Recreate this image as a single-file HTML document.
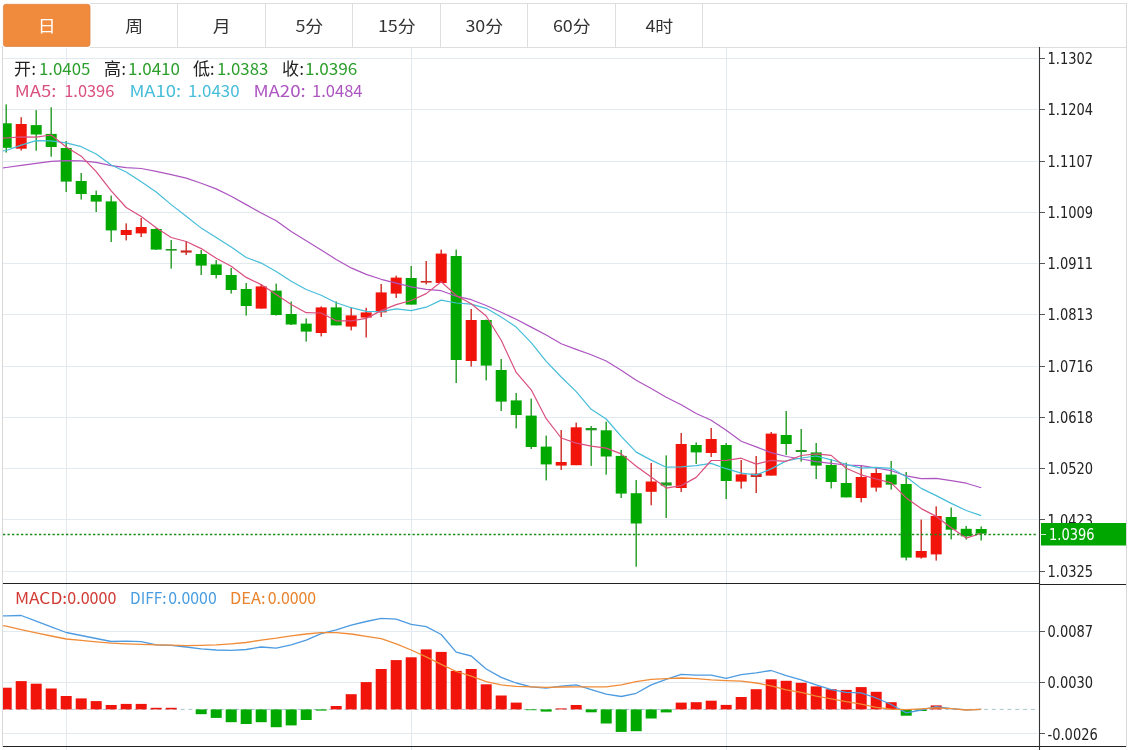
<!DOCTYPE html>
<html lang="zh-CN"><head><meta charset="utf-8"><title>K线图</title>
<style>
html,body{margin:0;padding:0;background:#fff;width:1134px;height:750px;overflow:hidden}
svg{display:block;will-change:transform}
.t{font-family:"Liberation Sans","Noto Sans CJK SC",sans-serif}
.tab{font-family:"Noto Sans CJK SC","Liberation Sans",sans-serif;font-size:16px;fill:#333}
.ax{font-family:"DejaVu Sans Condensed","DejaVu Sans",sans-serif;font-stretch:condensed;font-size:15px;fill:#222}
</style></head><body>
<svg width="1134" height="750" viewBox="0 0 1134 750">
<rect width="1134" height="750" fill="#fff"/>
<line x1="90" y1="3.5" x2="1127" y2="3.5" stroke="#dedede"/>
<line x1="90" y1="47.5" x2="1127" y2="47.5" stroke="#dedede"/>
<rect x="3.4" y="4.3" width="86.6" height="42.1" rx="2.5" fill="#f08a3c" stroke="#dc8748" stroke-width="0.8"/>
<text class="tab" x="0" y="32.2" text-anchor="middle" transform="translate(46.8,0) scale(1.12,1)" style="fill:#fff">日</text>
<text class="tab" x="0" y="32.2" text-anchor="middle" transform="translate(134.3,0) scale(1.12,1)" style="fill:#333">周</text>
<line x1="177.5" y1="4" x2="177.5" y2="47" stroke="#dedede"/>
<text class="tab" x="0" y="32.2" text-anchor="middle" transform="translate(221.8,0) scale(1.12,1)" style="fill:#333">月</text>
<line x1="265.5" y1="4" x2="265.5" y2="47" stroke="#dedede"/>
<text class="tab" x="0" y="32.2" text-anchor="middle" transform="translate(309.3,0) scale(1.12,1)" style="fill:#333">5分</text>
<line x1="352.5" y1="4" x2="352.5" y2="47" stroke="#dedede"/>
<text class="tab" x="0" y="32.2" text-anchor="middle" transform="translate(396.8,0) scale(1.12,1)" style="fill:#333">15分</text>
<line x1="440.5" y1="4" x2="440.5" y2="47" stroke="#dedede"/>
<text class="tab" x="0" y="32.2" text-anchor="middle" transform="translate(484.3,0) scale(1.12,1)" style="fill:#333">30分</text>
<line x1="527.5" y1="4" x2="527.5" y2="47" stroke="#dedede"/>
<text class="tab" x="0" y="32.2" text-anchor="middle" transform="translate(571.8,0) scale(1.12,1)" style="fill:#333">60分</text>
<line x1="615.5" y1="4" x2="615.5" y2="47" stroke="#dedede"/>
<text class="tab" x="0" y="32.2" text-anchor="middle" transform="translate(659.3,0) scale(1.12,1)" style="fill:#333">4时</text>
<line x1="702.5" y1="4" x2="702.5" y2="47" stroke="#dedede"/>
<line x1="2.5" y1="46" x2="2.5" y2="747" stroke="#d8d8d8"/>
<line x1="1126.5" y1="3" x2="1126.5" y2="747" stroke="#d8d8d8"/>
<g stroke="#e2e9ef" stroke-width="1">
<line x1="3" y1="58.5" x2="1038" y2="58.5"/>
<line x1="3" y1="109.5" x2="1038" y2="109.5"/>
<line x1="3" y1="161.5" x2="1038" y2="161.5"/>
<line x1="3" y1="212.5" x2="1038" y2="212.5"/>
<line x1="3" y1="263.5" x2="1038" y2="263.5"/>
<line x1="3" y1="314.5" x2="1038" y2="314.5"/>
<line x1="3" y1="366.5" x2="1038" y2="366.5"/>
<line x1="3" y1="417.5" x2="1038" y2="417.5"/>
<line x1="3" y1="468.5" x2="1038" y2="468.5"/>
<line x1="3" y1="519.5" x2="1038" y2="519.5"/>
<line x1="3" y1="571.5" x2="1038" y2="571.5"/>
<line x1="66.5" y1="48" x2="66.5" y2="750"/>
<line x1="411.5" y1="48" x2="411.5" y2="750"/>
<line x1="726.5" y1="48" x2="726.5" y2="750"/>
<line x1="3" y1="631.5" x2="1038" y2="631.5"/>
<line x1="3" y1="682.5" x2="1038" y2="682.5"/>
<line x1="3" y1="733.5" x2="1038" y2="733.5"/>
</g>
<defs><clipPath id="cm"><rect x="3" y="47" width="1036" height="536"/></clipPath><clipPath id="cd"><rect x="3" y="584" width="1036" height="162"/></clipPath></defs>
<g clip-path="url(#cm)">
<rect x="5.5" y="104.4" width="1.4" height="48.2" fill="#239a23"/>
<rect x="0.7" y="123.3" width="11" height="24.5" fill="#00a800"/>
<rect x="20.5" y="117.2" width="1.4" height="33.3" fill="#cc2a22"/>
<rect x="15.7" y="124" width="11" height="24.7" fill="#f0140a"/>
<rect x="35.5" y="110.1" width="1.4" height="40.6" fill="#239a23"/>
<rect x="30.7" y="125.1" width="11" height="9.4" fill="#00a800"/>
<rect x="50.5" y="107.3" width="1.4" height="49.4" fill="#239a23"/>
<rect x="45.7" y="133.9" width="11" height="13.1" fill="#00a800"/>
<rect x="65.5" y="141" width="1.4" height="51" fill="#239a23"/>
<rect x="60.7" y="148" width="11" height="33.6" fill="#00a800"/>
<rect x="80.5" y="173" width="1.4" height="26.6" fill="#239a23"/>
<rect x="75.7" y="181" width="11" height="13" fill="#00a800"/>
<rect x="95.5" y="190.6" width="1.4" height="21.4" fill="#239a23"/>
<rect x="90.7" y="195" width="11" height="6.6" fill="#00a800"/>
<rect x="110.5" y="195.6" width="1.4" height="46.4" fill="#239a23"/>
<rect x="105.7" y="201.4" width="11" height="29" fill="#00a800"/>
<rect x="125.5" y="223.4" width="1.4" height="17" fill="#cc2a22"/>
<rect x="120.7" y="230" width="11" height="5" fill="#f0140a"/>
<rect x="140.5" y="218" width="1.4" height="19" fill="#cc2a22"/>
<rect x="135.7" y="227" width="11" height="6.4" fill="#f0140a"/>
<rect x="155.5" y="228" width="1.4" height="22" fill="#239a23"/>
<rect x="150.7" y="229" width="11" height="20.6" fill="#00a800"/>
<rect x="170.5" y="240" width="1.4" height="28.6" fill="#239a23"/>
<rect x="165.7" y="249" width="11" height="1.6" fill="#239a23"/>
<rect x="185.5" y="241" width="1.4" height="14" fill="#cc2a22"/>
<rect x="180.7" y="250.4" width="11" height="2.2" fill="#cc2a22"/>
<rect x="200.5" y="250" width="1.4" height="25" fill="#239a23"/>
<rect x="195.7" y="254" width="11" height="11.6" fill="#00a800"/>
<rect x="215.5" y="260" width="1.4" height="18.4" fill="#239a23"/>
<rect x="210.7" y="264.4" width="11" height="10.6" fill="#00a800"/>
<rect x="230.5" y="268" width="1.4" height="25.6" fill="#239a23"/>
<rect x="225.7" y="275" width="11" height="15" fill="#00a800"/>
<rect x="245.5" y="283" width="1.4" height="32.6" fill="#239a23"/>
<rect x="240.7" y="289" width="11" height="17" fill="#00a800"/>
<rect x="260.5" y="284" width="1.4" height="24.6" fill="#cc2a22"/>
<rect x="255.7" y="286.4" width="11" height="22.2" fill="#f0140a"/>
<rect x="275.5" y="283.6" width="1.4" height="32" fill="#239a23"/>
<rect x="270.7" y="290.6" width="11" height="24.4" fill="#00a800"/>
<rect x="290.5" y="301.5" width="1.4" height="23.5" fill="#239a23"/>
<rect x="285.7" y="314" width="11" height="10.5" fill="#00a800"/>
<rect x="305.5" y="318.4" width="1.4" height="23.2" fill="#239a23"/>
<rect x="300.7" y="323.6" width="11" height="8" fill="#00a800"/>
<rect x="320.5" y="306.4" width="1.4" height="30" fill="#cc2a22"/>
<rect x="315.7" y="307.4" width="11" height="25.6" fill="#f0140a"/>
<rect x="335.5" y="301.4" width="1.4" height="24" fill="#239a23"/>
<rect x="330.7" y="307.4" width="11" height="18" fill="#00a800"/>
<rect x="350.5" y="307.6" width="1.4" height="22.8" fill="#cc2a22"/>
<rect x="345.7" y="315.4" width="11" height="11.2" fill="#f0140a"/>
<rect x="365.5" y="307.8" width="1.4" height="29.7" fill="#cc2a22"/>
<rect x="360.7" y="312.4" width="11" height="5.2" fill="#f0140a"/>
<rect x="380.5" y="284" width="1.4" height="33" fill="#cc2a22"/>
<rect x="375.7" y="292.4" width="11" height="20" fill="#f0140a"/>
<rect x="395.5" y="275.6" width="1.4" height="22.4" fill="#cc2a22"/>
<rect x="390.7" y="277.6" width="11" height="16" fill="#f0140a"/>
<rect x="410.5" y="266" width="1.4" height="38.6" fill="#239a23"/>
<rect x="405.7" y="278" width="11" height="26.6" fill="#00a800"/>
<rect x="425.5" y="261" width="1.4" height="23.4" fill="#cc2a22"/>
<rect x="420.7" y="281" width="11" height="1.6" fill="#cc2a22"/>
<rect x="440.5" y="249.6" width="1.4" height="33.4" fill="#cc2a22"/>
<rect x="435.7" y="253.6" width="11" height="29.4" fill="#f0140a"/>
<rect x="455.5" y="249.6" width="1.4" height="133.4" fill="#239a23"/>
<rect x="450.7" y="256" width="11" height="104" fill="#00a800"/>
<rect x="470.5" y="309" width="1.4" height="57.6" fill="#cc2a22"/>
<rect x="465.7" y="320" width="11" height="41" fill="#f0140a"/>
<rect x="485.5" y="319.6" width="1.4" height="60.8" fill="#239a23"/>
<rect x="480.7" y="320" width="11" height="45.6" fill="#00a800"/>
<rect x="500.5" y="359" width="1.4" height="52" fill="#239a23"/>
<rect x="495.7" y="370" width="11" height="31.6" fill="#00a800"/>
<rect x="515.5" y="393" width="1.4" height="35.4" fill="#239a23"/>
<rect x="510.7" y="400.4" width="11" height="14.6" fill="#00a800"/>
<rect x="530.5" y="398.6" width="1.4" height="50.4" fill="#239a23"/>
<rect x="525.7" y="415.6" width="11" height="31.4" fill="#00a800"/>
<rect x="545.5" y="435.6" width="1.4" height="44.8" fill="#239a23"/>
<rect x="540.7" y="446.6" width="11" height="17.8" fill="#00a800"/>
<rect x="560.5" y="430" width="1.4" height="40" fill="#cc2a22"/>
<rect x="555.7" y="462" width="11" height="3.6" fill="#f0140a"/>
<rect x="575.5" y="422.6" width="1.4" height="42.6" fill="#cc2a22"/>
<rect x="570.7" y="427.3" width="11" height="37.9" fill="#f0140a"/>
<rect x="590.5" y="426" width="1.4" height="39.9" fill="#239a23"/>
<rect x="585.7" y="428" width="11" height="2.3" fill="#239a23"/>
<rect x="605.5" y="421.7" width="1.4" height="52.9" fill="#239a23"/>
<rect x="600.7" y="430.3" width="11" height="26.2" fill="#00a800"/>
<rect x="620.5" y="450" width="1.4" height="48" fill="#239a23"/>
<rect x="615.7" y="455.9" width="11" height="37.7" fill="#00a800"/>
<rect x="635.5" y="480" width="1.4" height="86.7" fill="#239a23"/>
<rect x="630.7" y="493.2" width="11" height="30.3" fill="#00a800"/>
<rect x="650.5" y="463" width="1.4" height="42.3" fill="#cc2a22"/>
<rect x="645.7" y="481.5" width="11" height="10.3" fill="#f0140a"/>
<rect x="665.5" y="455.4" width="1.4" height="62.6" fill="#239a23"/>
<rect x="660.7" y="482.4" width="11" height="3.2" fill="#239a23"/>
<rect x="680.5" y="433" width="1.4" height="59" fill="#cc2a22"/>
<rect x="675.7" y="444" width="11" height="44" fill="#f0140a"/>
<rect x="695.5" y="442.4" width="1.4" height="21.6" fill="#239a23"/>
<rect x="690.7" y="445" width="11" height="7.4" fill="#00a800"/>
<rect x="710.5" y="428" width="1.4" height="29" fill="#cc2a22"/>
<rect x="705.7" y="439" width="11" height="14" fill="#f0140a"/>
<rect x="725.5" y="443" width="1.4" height="56" fill="#239a23"/>
<rect x="720.7" y="445" width="11" height="36" fill="#00a800"/>
<rect x="740.5" y="460" width="1.4" height="28.6" fill="#cc2a22"/>
<rect x="735.7" y="474.4" width="11" height="7.2" fill="#f0140a"/>
<rect x="755.5" y="456" width="1.4" height="37" fill="#cc2a22"/>
<rect x="750.7" y="473.6" width="11" height="3.4" fill="#cc2a22"/>
<rect x="770.5" y="432" width="1.4" height="43.6" fill="#cc2a22"/>
<rect x="765.7" y="433.6" width="11" height="42" fill="#f0140a"/>
<rect x="785.5" y="411" width="1.4" height="44" fill="#239a23"/>
<rect x="780.7" y="435" width="11" height="9" fill="#00a800"/>
<rect x="800.5" y="429" width="1.4" height="32.6" fill="#239a23"/>
<rect x="795.7" y="450" width="11" height="2" fill="#239a23"/>
<rect x="815.5" y="443" width="1.4" height="36" fill="#239a23"/>
<rect x="810.7" y="452.4" width="11" height="13.2" fill="#00a800"/>
<rect x="830.5" y="459" width="1.4" height="29.4" fill="#239a23"/>
<rect x="825.7" y="465" width="11" height="17" fill="#00a800"/>
<rect x="845.5" y="462.6" width="1.4" height="34.8" fill="#239a23"/>
<rect x="840.7" y="483" width="11" height="14.4" fill="#00a800"/>
<rect x="860.5" y="466" width="1.4" height="36.4" fill="#cc2a22"/>
<rect x="855.7" y="477" width="11" height="21" fill="#f0140a"/>
<rect x="875.5" y="468" width="1.4" height="23.6" fill="#cc2a22"/>
<rect x="870.7" y="473" width="11" height="14.6" fill="#f0140a"/>
<rect x="890.5" y="461" width="1.4" height="28.6" fill="#239a23"/>
<rect x="885.7" y="474.6" width="11" height="10" fill="#00a800"/>
<rect x="905.5" y="472" width="1.4" height="88.4" fill="#239a23"/>
<rect x="900.7" y="484" width="11" height="73.6" fill="#00a800"/>
<rect x="920.5" y="519.6" width="1.4" height="39" fill="#cc2a22"/>
<rect x="915.7" y="551" width="11" height="6.6" fill="#f0140a"/>
<rect x="935.5" y="506.4" width="1.4" height="54.2" fill="#cc2a22"/>
<rect x="930.7" y="516" width="11" height="38.4" fill="#f0140a"/>
<rect x="950.5" y="507.5" width="1.4" height="31.9" fill="#239a23"/>
<rect x="945.7" y="517" width="11" height="12.7" fill="#00a800"/>
<rect x="965.5" y="526" width="1.4" height="13.6" fill="#239a23"/>
<rect x="960.7" y="528.8" width="11" height="7.5" fill="#00a800"/>
<rect x="980.5" y="526.4" width="1.4" height="14.1" fill="#239a23"/>
<rect x="975.7" y="529" width="11" height="4.7" fill="#00a800"/>
<polyline points="-8.8,169.5 6.2,167.5 21.2,165.4 36.2,163.3 51.2,161.3 66.2,160.6 81.2,160.9 96.2,162.4 111.2,165.6 126.2,167.6 141.2,168.5 156.2,171.3 171.2,174.6 186.2,178.1 201.2,183.3 216.2,188.9 231.2,196.3 246.2,204.6 261.2,213 276.2,220.7 291.2,231.6 306.2,240.7 321.2,249.9 336.2,259.5 351.2,267.9 366.2,274.4 381.2,279.3 396.2,283.1 411.2,286.8 426.2,289.4 441.2,290.7 456.2,296.2 471.2,299.7 486.2,305.5 501.2,312.3 516.2,319.3 531.2,327.1 546.2,335 561.2,343.8 576.2,349.4 591.2,354.7 606.2,361 621.2,370.3 636.2,380.2 651.2,388.5 666.2,397.2 681.2,404.7 696.2,413.5 711.2,420.2 726.2,430.2 741.2,441.2 756.2,446.9 771.2,452.6 786.2,456.5 801.2,459 816.2,461.6 831.2,463.3 846.2,465 861.2,465.7 876.2,468 891.2,470.7 906.2,475.8 921.2,478.6 936.2,478.3 951.2,480.7 966.2,483.2 981.2,487.7" fill="none" stroke="#ad55c0" stroke-width="1.2" stroke-linejoin="round"/>
<polyline points="-8.8,152.5 6.2,150.5 21.2,145.1 36.2,140.7 51.2,140.9 66.2,142.8 81.2,146.7 96.2,154 111.2,165 126.2,172 141.2,181.8 156.2,192 171.2,204.6 186.2,216.2 201.2,228.1 216.2,237.4 231.2,247 246.2,257.5 261.2,263.1 276.2,271.6 291.2,281.3 306.2,289.5 321.2,295.2 336.2,302.7 351.2,307.7 366.2,311.4 381.2,311.6 396.2,308.8 411.2,310.6 426.2,307.2 441.2,300.1 456.2,303 471.2,304.2 486.2,308.3 501.2,316.9 516.2,327.1 531.2,342.6 546.2,361.3 561.2,377 576.2,391.6 591.2,409.3 606.2,419 621.2,436.3 636.2,452.1 651.2,460.1 666.2,467.2 681.2,466.9 696.2,465.7 711.2,463.4 726.2,468.7 741.2,473.1 756.2,474.9 771.2,468.9 786.2,460.9 801.2,458 816.2,456 831.2,459.8 846.2,464.3 861.2,468.1 876.2,467.3 891.2,468.3 906.2,476.7 921.2,488.4 936.2,495.6 951.2,503.4 966.2,510.5 981.2,515.6" fill="none" stroke="#46bdd9" stroke-width="1.2" stroke-linejoin="round"/>
<polyline points="-8.8,139 6.2,138 21.2,136.8 36.2,137.1 51.2,135 66.2,147 81.2,156.2 96.2,171.7 111.2,190.9 126.2,207.5 141.2,216.6 156.2,227.7 171.2,237.5 186.2,241.5 201.2,248.6 216.2,258.2 231.2,266.3 246.2,277.4 261.2,284.6 276.2,294.5 291.2,304.4 306.2,312.7 321.2,313 336.2,320.8 351.2,320.9 366.2,318.4 381.2,310.6 396.2,304.6 411.2,300.5 426.2,293.6 441.2,281.8 456.2,295.4 471.2,303.8 486.2,316 501.2,340.2 516.2,372.4 531.2,389.8 546.2,418.7 561.2,438 576.2,443.1 591.2,446.2 606.2,448.1 621.2,453.9 636.2,466.2 651.2,477.1 666.2,488.1 681.2,485.6 696.2,477.4 711.2,460.5 726.2,460.4 741.2,458.2 756.2,464.1 771.2,460.3 786.2,461.3 801.2,455.5 816.2,453.8 831.2,455.4 846.2,468.2 861.2,474.8 876.2,479 891.2,482.8 906.2,497.9 921.2,508.6 936.2,516.4 951.2,527.8 966.2,538.1 981.2,533.3" fill="none" stroke="#d94f7f" stroke-width="1.2" stroke-linejoin="round"/>
</g>
<line x1="3" y1="534.5" x2="1037" y2="534.5" stroke="#1a8c1a" stroke-width="1.3" stroke-dasharray="2.3 2.2"/>
<g clip-path="url(#cd)">
<line x1="3" y1="709.4" x2="1037" y2="709.4" stroke="#a8c4d2" stroke-width="1" stroke-dasharray="3.9 3.9" stroke-dashoffset="1.7"/>
<rect x="0.7" y="687.7" width="11" height="21.7" fill="#f0140a"/>
<rect x="15.7" y="681.1" width="11" height="28.3" fill="#f0140a"/>
<rect x="30.7" y="683.7" width="11" height="25.7" fill="#f0140a"/>
<rect x="45.7" y="688.5" width="11" height="20.9" fill="#f0140a"/>
<rect x="60.7" y="696" width="11" height="13.4" fill="#f0140a"/>
<rect x="75.7" y="698.4" width="11" height="11" fill="#f0140a"/>
<rect x="90.7" y="701.1" width="11" height="8.3" fill="#f0140a"/>
<rect x="105.7" y="705" width="11" height="4.4" fill="#f0140a"/>
<rect x="120.7" y="703.9" width="11" height="5.5" fill="#f0140a"/>
<rect x="135.7" y="703.9" width="11" height="5.5" fill="#f0140a"/>
<rect x="150.7" y="707.8" width="11" height="1.6" fill="#f0140a"/>
<rect x="165.7" y="707.8" width="11" height="1.6" fill="#f0140a"/>
<rect x="195.7" y="709.4" width="11" height="4.8" fill="#00a800"/>
<rect x="210.7" y="709.4" width="11" height="8.5" fill="#00a800"/>
<rect x="225.7" y="709.4" width="11" height="12.8" fill="#00a800"/>
<rect x="240.7" y="709.4" width="11" height="14.6" fill="#00a800"/>
<rect x="255.7" y="709.4" width="11" height="12.8" fill="#00a800"/>
<rect x="270.7" y="709.4" width="11" height="17.8" fill="#00a800"/>
<rect x="285.7" y="709.4" width="11" height="16" fill="#00a800"/>
<rect x="300.7" y="709.4" width="11" height="10.6" fill="#00a800"/>
<rect x="315.7" y="709.4" width="11" height="1.2" fill="#00a800"/>
<rect x="330.7" y="706" width="11" height="3.4" fill="#f0140a"/>
<rect x="345.7" y="694.2" width="11" height="15.2" fill="#f0140a"/>
<rect x="360.7" y="682.1" width="11" height="27.3" fill="#f0140a"/>
<rect x="375.7" y="669" width="11" height="40.4" fill="#f0140a"/>
<rect x="390.7" y="660.1" width="11" height="49.3" fill="#f0140a"/>
<rect x="405.7" y="657.3" width="11" height="52.1" fill="#f0140a"/>
<rect x="420.7" y="649.4" width="11" height="60" fill="#f0140a"/>
<rect x="435.7" y="651.9" width="11" height="57.5" fill="#f0140a"/>
<rect x="450.7" y="670.9" width="11" height="38.5" fill="#f0140a"/>
<rect x="465.7" y="669" width="11" height="40.4" fill="#f0140a"/>
<rect x="480.7" y="684.3" width="11" height="25.1" fill="#f0140a"/>
<rect x="495.7" y="695.5" width="11" height="13.9" fill="#f0140a"/>
<rect x="510.7" y="702.6" width="11" height="6.8" fill="#f0140a"/>
<rect x="525.7" y="709.4" width="11" height="0.8" fill="#00a800"/>
<rect x="540.7" y="709.4" width="11" height="2.2" fill="#00a800"/>
<rect x="555.7" y="708.4" width="11" height="1" fill="#f0140a"/>
<rect x="570.7" y="705" width="11" height="4.4" fill="#f0140a"/>
<rect x="585.7" y="709.4" width="11" height="2.9" fill="#00a800"/>
<rect x="600.7" y="709.4" width="11" height="14.1" fill="#00a800"/>
<rect x="615.7" y="709.4" width="11" height="22.5" fill="#00a800"/>
<rect x="630.7" y="709.4" width="11" height="21.8" fill="#00a800"/>
<rect x="645.7" y="709.4" width="11" height="9.1" fill="#00a800"/>
<rect x="660.7" y="709.4" width="11" height="3" fill="#00a800"/>
<rect x="675.7" y="702.6" width="11" height="6.8" fill="#f0140a"/>
<rect x="690.7" y="702.2" width="11" height="7.2" fill="#f0140a"/>
<rect x="705.7" y="700.7" width="11" height="8.7" fill="#f0140a"/>
<rect x="720.7" y="704.9" width="11" height="4.5" fill="#f0140a"/>
<rect x="735.7" y="697" width="11" height="12.4" fill="#f0140a"/>
<rect x="750.7" y="689.2" width="11" height="20.2" fill="#f0140a"/>
<rect x="765.7" y="679.3" width="11" height="30.1" fill="#f0140a"/>
<rect x="780.7" y="680.8" width="11" height="28.6" fill="#f0140a"/>
<rect x="795.7" y="682.8" width="11" height="26.6" fill="#f0140a"/>
<rect x="810.7" y="686.4" width="11" height="23" fill="#f0140a"/>
<rect x="825.7" y="689.2" width="11" height="20.2" fill="#f0140a"/>
<rect x="840.7" y="689.9" width="11" height="19.5" fill="#f0140a"/>
<rect x="855.7" y="687.1" width="11" height="22.3" fill="#f0140a"/>
<rect x="870.7" y="691.8" width="11" height="17.6" fill="#f0140a"/>
<rect x="885.7" y="702.2" width="11" height="7.2" fill="#f0140a"/>
<rect x="900.7" y="709.4" width="11" height="6.3" fill="#00a800"/>
<rect x="915.7" y="709.4" width="11" height="1.6" fill="#00a800"/>
<rect x="930.7" y="705.4" width="11" height="4" fill="#f0140a"/>
<polyline points="-8.8,616.2 6.2,615.9 21.2,615.5 36.2,621.2 51.2,626.9 66.2,632.5 81.2,635.5 96.2,638.5 111.2,641.5 126.2,641.2 141.2,641.6 156.2,644.8 171.2,645.3 186.2,647 201.2,648.9 216.2,650 231.2,650.4 246.2,649.5 261.2,647 276.2,648.1 291.2,644.8 306.2,640.1 321.2,633.6 336.2,629.9 351.2,625.2 366.2,621.5 381.2,618.3 396.2,619.2 411.2,624.3 426.2,626.7 441.2,634.5 456.2,652.2 471.2,656 486.2,669 501.2,677.4 516.2,683 531.2,686.8 546.2,688.2 561.2,686.2 576.2,684.9 591.2,689.6 606.2,694.2 621.2,696.5 636.2,693.3 651.2,684.9 666.2,679.3 681.2,674.3 696.2,675.2 711.2,675.2 726.2,678.4 741.2,674.6 756.2,672.8 771.2,670.5 786.2,675.6 801.2,679.9 816.2,684.9 831.2,689.6 846.2,692.4 861.2,692.9 876.2,698 891.2,704.5 906.2,712.9 921.2,710 936.2,706.7 951.2,708.6 966.2,709.8 981.2,709.4" fill="none" stroke="#4d9be0" stroke-width="1.3" stroke-linejoin="round"/>
<polyline points="-8.8,623.2 6.2,626.2 21.2,629.6 36.2,632.8 51.2,636 66.2,639 81.2,640.4 96.2,641.8 111.2,643.1 126.2,643.8 141.2,644.3 156.2,644.8 171.2,645.2 186.2,645.7 201.2,645.3 216.2,644.8 231.2,643.8 246.2,642.5 261.2,640.1 276.2,638.2 291.2,635.8 306.2,634 321.2,632.6 336.2,632.6 351.2,634 366.2,636.4 381.2,638.6 396.2,643.8 411.2,650 426.2,656.9 441.2,664.4 456.2,671.5 471.2,676.1 486.2,681.7 501.2,684.9 516.2,686.4 531.2,686.8 546.2,687.3 561.2,687 576.2,686.8 591.2,686.8 606.2,686.8 621.2,684.9 636.2,681.7 651.2,679.3 666.2,678.6 681.2,678 696.2,678.7 711.2,679.9 726.2,680.6 741.2,681.2 756.2,683 771.2,685.8 786.2,689.9 801.2,692.4 816.2,696.1 831.2,698.9 846.2,701.7 861.2,704.1 876.2,707.3 891.2,709.1 906.2,709.7 921.2,708.8 936.2,707.8 951.2,708.6 966.2,710 981.2,709.4" fill="none" stroke="#f08c38" stroke-width="1.3" stroke-linejoin="round"/>
</g>
<line x1="3" y1="583.5" x2="1039" y2="583.5" stroke="#222" stroke-width="1.2"/>
<line x1="1039" y1="584.5" x2="1126" y2="584.5" stroke="#222" stroke-width="1.2"/>
<line x1="3" y1="746.5" x2="1126" y2="746.5" stroke="#222" stroke-width="1.2"/>
<line x1="1039.5" y1="47" x2="1039.5" y2="750" stroke="#333" stroke-width="1.1"/>
<rect x="1040" y="58" width="5" height="1" fill="#555"/>
<text class="ax" x="1047.5" y="64" transform="translate(1048,0) scale(0.965,1) translate(-1048,0)">1.1302</text>
<rect x="1040" y="109" width="5" height="1" fill="#555"/>
<text class="ax" x="1047.5" y="115.3" transform="translate(1048,0) scale(0.965,1) translate(-1048,0)">1.1204</text>
<rect x="1040" y="161" width="5" height="1" fill="#555"/>
<text class="ax" x="1047.5" y="166.6" transform="translate(1048,0) scale(0.965,1) translate(-1048,0)">1.1107</text>
<rect x="1040" y="212" width="5" height="1" fill="#555"/>
<text class="ax" x="1047.5" y="217.9" transform="translate(1048,0) scale(0.965,1) translate(-1048,0)">1.1009</text>
<rect x="1040" y="263" width="5" height="1" fill="#555"/>
<text class="ax" x="1047.5" y="269.2" transform="translate(1048,0) scale(0.965,1) translate(-1048,0)">1.0911</text>
<rect x="1040" y="314" width="5" height="1" fill="#555"/>
<text class="ax" x="1047.5" y="320.5" transform="translate(1048,0) scale(0.965,1) translate(-1048,0)">1.0813</text>
<rect x="1040" y="366" width="5" height="1" fill="#555"/>
<text class="ax" x="1047.5" y="371.8" transform="translate(1048,0) scale(0.965,1) translate(-1048,0)">1.0716</text>
<rect x="1040" y="417" width="5" height="1" fill="#555"/>
<text class="ax" x="1047.5" y="423.1" transform="translate(1048,0) scale(0.965,1) translate(-1048,0)">1.0618</text>
<rect x="1040" y="468" width="5" height="1" fill="#555"/>
<text class="ax" x="1047.5" y="474.4" transform="translate(1048,0) scale(0.965,1) translate(-1048,0)">1.0520</text>
<rect x="1040" y="519" width="5" height="1" fill="#555"/>
<text class="ax" x="1047.5" y="525.7" transform="translate(1048,0) scale(0.965,1) translate(-1048,0)">1.0423</text>
<rect x="1040" y="571" width="5" height="1" fill="#555"/>
<text class="ax" x="1047.5" y="577" transform="translate(1048,0) scale(0.965,1) translate(-1048,0)">1.0325</text>
<rect x="1041" y="523" width="85" height="22.5" fill="#00a600"/>
<line x1="1041" y1="534.5" x2="1046" y2="534.5" stroke="#d0f0d0"/>
<text class="ax" x="1049" y="540" style="fill:#fff" transform="translate(1049,0) scale(0.965,1) translate(-1049,0)">1.0396</text>
<rect x="1040" y="631" width="5" height="1" fill="#555"/>
<text class="ax" x="1047.5" y="637.2" transform="translate(1048,0) scale(0.965,1) translate(-1048,0)">0.0087</text>
<rect x="1040" y="682" width="5" height="1" fill="#555"/>
<text class="ax" x="1047.5" y="688.4" transform="translate(1048,0) scale(0.965,1) translate(-1048,0)">0.0030</text>
<rect x="1040" y="733" width="5" height="1" fill="#555"/>
<text class="ax" x="1047.5" y="739.6" transform="translate(1048,0) scale(0.965,1) translate(-1048,0)">-0.0026</text>
<text x="14.00" y="75" font-size="17" fill="#222222" style="font-family:'Noto Sans CJK SC',sans-serif;white-space:pre" xml:space="preserve">开</text>
<text x="31.40" y="74.5" font-size="16" fill="#222222" style="font-family:'Noto Sans CJK SC','Liberation Sans',sans-serif;white-space:pre" xml:space="preserve">:</text>
<text x="39.00" y="74.5" font-size="16" fill="#2a9e2a" style="font-family:'Noto Sans CJK SC','Liberation Sans',sans-serif;white-space:pre" xml:space="preserve" textLength="51.40" lengthAdjust="spacingAndGlyphs">1.0405</text>
<text x="104.00" y="75" font-size="17" fill="#222222" style="font-family:'Noto Sans CJK SC',sans-serif;white-space:pre" xml:space="preserve">高</text>
<text x="121.40" y="74.5" font-size="16" fill="#222222" style="font-family:'Noto Sans CJK SC','Liberation Sans',sans-serif;white-space:pre" xml:space="preserve">:</text>
<text x="128.00" y="74.5" font-size="16" fill="#2a9e2a" style="font-family:'Noto Sans CJK SC','Liberation Sans',sans-serif;white-space:pre" xml:space="preserve" textLength="51.98" lengthAdjust="spacingAndGlyphs">1.0410</text>
<text x="193.00" y="75" font-size="17" fill="#222222" style="font-family:'Noto Sans CJK SC',sans-serif;white-space:pre" xml:space="preserve">低</text>
<text x="209.90" y="74.5" font-size="16" fill="#222222" style="font-family:'Noto Sans CJK SC','Liberation Sans',sans-serif;white-space:pre" xml:space="preserve">:</text>
<text x="217.00" y="74.5" font-size="16" fill="#2a9e2a" style="font-family:'Noto Sans CJK SC','Liberation Sans',sans-serif;white-space:pre" xml:space="preserve" textLength="51.30" lengthAdjust="spacingAndGlyphs">1.0383</text>
<text x="282.00" y="75" font-size="17" fill="#222222" style="font-family:'Noto Sans CJK SC',sans-serif;white-space:pre" xml:space="preserve">收</text>
<text x="299.40" y="74.5" font-size="16" fill="#222222" style="font-family:'Noto Sans CJK SC','Liberation Sans',sans-serif;white-space:pre" xml:space="preserve">:</text>
<text x="305.00" y="74.5" font-size="16" fill="#2a9e2a" style="font-family:'Noto Sans CJK SC','Liberation Sans',sans-serif;white-space:pre" xml:space="preserve" textLength="52.40" lengthAdjust="spacingAndGlyphs">1.0396</text>
<text x="14.80" y="97" font-size="16" fill="#d94f7f" style="font-family:'Noto Sans CJK SC','Liberation Sans',sans-serif;white-space:pre" xml:space="preserve" textLength="41.63" lengthAdjust="spacingAndGlyphs">MA5:</text>
<text x="64.20" y="97" font-size="16" fill="#d94f7f" style="font-family:'Noto Sans CJK SC','Liberation Sans',sans-serif;white-space:pre" xml:space="preserve" textLength="50.18" lengthAdjust="spacingAndGlyphs">1.0396</text>
<text x="129.40" y="97" font-size="16" fill="#46bdd9" style="font-family:'Noto Sans CJK SC','Liberation Sans',sans-serif;white-space:pre" xml:space="preserve" textLength="51.82" lengthAdjust="spacingAndGlyphs">MA10:</text>
<text x="188.00" y="97" font-size="16" fill="#46bdd9" style="font-family:'Noto Sans CJK SC','Liberation Sans',sans-serif;white-space:pre" xml:space="preserve" textLength="51.53" lengthAdjust="spacingAndGlyphs">1.0430</text>
<text x="253.40" y="97" font-size="16" fill="#ad55c0" style="font-family:'Noto Sans CJK SC','Liberation Sans',sans-serif;white-space:pre" xml:space="preserve" textLength="52.31" lengthAdjust="spacingAndGlyphs">MA20:</text>
<text x="312.00" y="97" font-size="16" fill="#ad55c0" style="font-family:'Noto Sans CJK SC','Liberation Sans',sans-serif;white-space:pre" xml:space="preserve" textLength="50.52" lengthAdjust="spacingAndGlyphs">1.0484</text>
<text x="14.90" y="603.8" font-size="15.5" fill="#d23a34" style="font-family:'Noto Sans CJK SC','Liberation Sans',sans-serif;white-space:pre" xml:space="preserve" textLength="52.29" lengthAdjust="spacingAndGlyphs">MACD:</text>
<text x="67.30" y="603.8" font-size="15.5" fill="#d23a34" style="font-family:'Noto Sans CJK SC','Liberation Sans',sans-serif;white-space:pre" xml:space="preserve" textLength="49.07" lengthAdjust="spacingAndGlyphs">0.0000</text>
<text x="130.10" y="603.8" font-size="15.5" fill="#4a9de0" style="font-family:'Noto Sans CJK SC','Liberation Sans',sans-serif;white-space:pre" xml:space="preserve" textLength="36.33" lengthAdjust="spacingAndGlyphs">DIFF:</text>
<text x="168.30" y="603.8" font-size="15.5" fill="#4a9de0" style="font-family:'Noto Sans CJK SC','Liberation Sans',sans-serif;white-space:pre" xml:space="preserve" textLength="48.44" lengthAdjust="spacingAndGlyphs">0.0000</text>
<text x="230.10" y="603.8" font-size="15.5" fill="#e8832e" style="font-family:'Noto Sans CJK SC','Liberation Sans',sans-serif;white-space:pre" xml:space="preserve" textLength="35.47" lengthAdjust="spacingAndGlyphs">DEA:</text>
<text x="267.70" y="603.8" font-size="15.5" fill="#e8832e" style="font-family:'Noto Sans CJK SC','Liberation Sans',sans-serif;white-space:pre" xml:space="preserve" textLength="48.49" lengthAdjust="spacingAndGlyphs">0.0000</text>
</svg></body></html>
